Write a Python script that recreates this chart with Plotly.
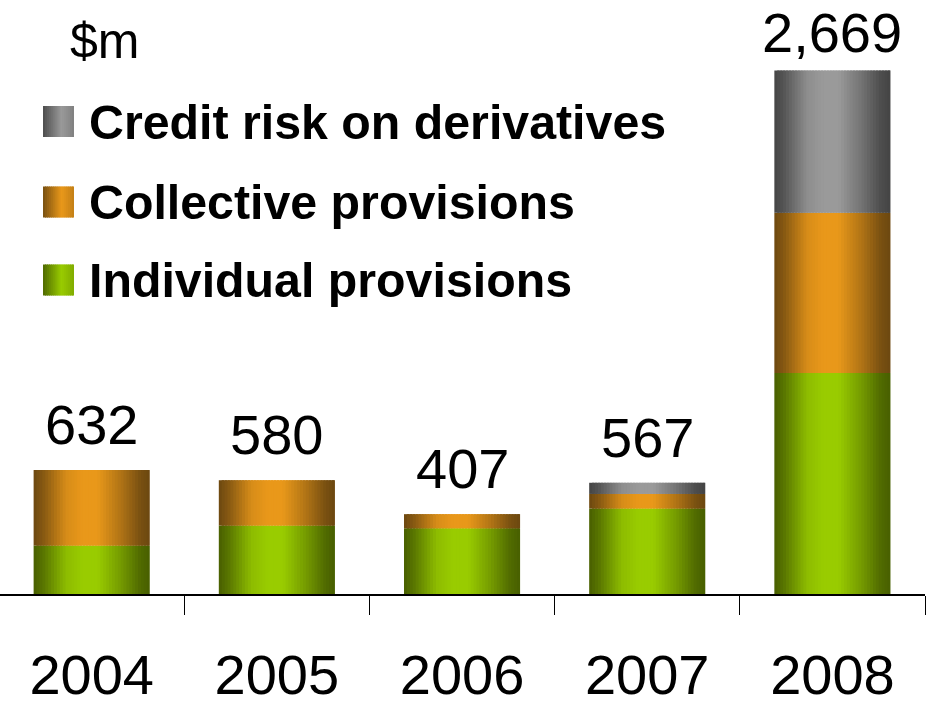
import plotly.graph_objects as go

# Impairment charges by year ($m)
years = ["2004", "2005", "2006", "2007", "2008"]
individual = [247, 349, 335, 436, 1127]
collective = [385, 231, 72, 74, 816]
credit_deriv = [0, 0, 0, 57, 726]

series_names = ["Credit risk on derivatives", "Collective provisions", "Individual provisions"]

FONT = "Liberation Sans, Arial, sans-serif"

# (dark edge colour, bright centre colour) for each series
palette = {
    "individual": ((0x48, 0x5f, 0x00), (0x99, 0xcc, 0x00)),
    "collective": ((0x6c, 0x48, 0x10), (0xe9, 0x98, 0x1a)),
    "credit": ((0x44, 0x44, 0x44), (0x9a, 0x9a, 0x9a)),
}

# horizontal shading profile across a bar: position -> mix towards bright colour
bar_profile = [(0.0, 0.0), (0.08, 0.2), (0.28, 0.85), (0.42, 1.0), (0.55, 1.0),
               (0.75, 0.55), (0.92, 0.1), (1.0, 0.0)]
swatch_profile = [(0.0, 0.1), (0.6, 1.0), (1.0, 0.7)]


def interp(profile, t):
    for (p0, v0), (p1, v1) in zip(profile, profile[1:]):
        if p0 <= t <= p1:
            return v0 + (v1 - v0) * (t - p0) / (p1 - p0)
    return profile[-1][1]


def mix(pair, k):
    dark, bright = pair
    c = [round(d + (b - d) * k) for d, b in zip(dark, bright)]
    return "rgb({},{},{})".format(*c)


bars = [
    ("individual", individual, [0] * len(years)),
    ("collective", collective, list(individual)),
    ("credit", credit_deriv, [a + b for a, b in zip(individual, collective)]),
]
totals = [a + b + c for a, b, c in zip(individual, collective, credit_deriv)]

BAR_W = 0.627
N = 40
step = BAR_W / N

fig = go.Figure()
for key, vals, base in bars:
    for i in range(N):
        off = -BAR_W / 2 + i * step
        w = min(step * 1.8, BAR_W / 2 - off)
        t = (i + 0.5) / N
        fig.add_trace(go.Bar(
            x=years, y=vals, base=base,
            offset=off, width=w,
            marker=dict(color=mix(palette[key], interp(bar_profile, t)), line=dict(width=0)),
            showlegend=False, hoverinfo="skip",
        ))

# total labels above each stack; the tallest one sits a little closer so it stays on the page
annotations = []
top = max(totals)
for idx, tot in enumerate(totals):
    annotations.append(dict(
        x=idx, y=tot, xref="x", yref="y", text=f"{tot:,}",
        showarrow=False, yanchor="bottom", yshift=5 if tot == top else 13,
        borderpad=0,
        font=dict(family=FONT, size=56, color="black"),
    ))

PW, PH = 925, 594  # plot area in pixels


def px(x):
    return x / PW


def py(y):
    return (PH - y) / PH


annotations.append(dict(
    x=px(68), y=py(41), xref="paper", yref="paper", text="$m",
    showarrow=False, xanchor="left", yanchor="middle",
    font=dict(family=FONT, size=50, color="black"),
))

shapes = []
legend_rows = [
    ("credit", series_names[0], 121.5),
    ("collective", series_names[1], 202),
    ("individual", series_names[2], 280),
]
SW_N = 16
for key, name, cy in legend_rows:
    annotations.append(dict(
        x=px(87), y=py(cy), xref="paper", yref="paper", text=f"<b>{name}</b>",
        showarrow=False, xanchor="left", yanchor="middle",
        font=dict(family=FONT, size=48.3, color="black"),
    ))
    x0, x1 = 43, 74
    sw = (x1 - x0) / SW_N
    for j in range(SW_N):
        t = (j + 0.5) / SW_N
        shapes.append(dict(
            type="rect", xref="paper", yref="paper",
            x0=px(x0 + j * sw), x1=px(min(x0 + (j + 1.6) * sw, x1)),
            y0=py(cy + 15.5), y1=py(cy - 15.5),
            fillcolor=mix(palette[key], interp(swatch_profile, t)),
            line=dict(width=0), layer="above",
        ))

fig.update_layout(
    width=926, height=708,
    margin=dict(l=0, r=1, t=0, b=114),
    barmode="overlay",
    plot_bgcolor="white", paper_bgcolor="white",
    annotations=annotations, shapes=shapes,
    xaxis=dict(
        type="category", range=[-0.495, 4.5],
        showline=True, linecolor="black", linewidth=2,
        ticks="outside", tickson="boundaries", ticklen=19, tickwidth=1, tickcolor="black",
        tickfont=dict(family=FONT, size=56, color="black"),
        ticklabelstandoff=31,
        showgrid=False, zeroline=False, fixedrange=True,
    ),
    yaxis=dict(range=[0, 3028], visible=False, fixedrange=True),
    showlegend=False,
)

fig.write_html("out.html")
